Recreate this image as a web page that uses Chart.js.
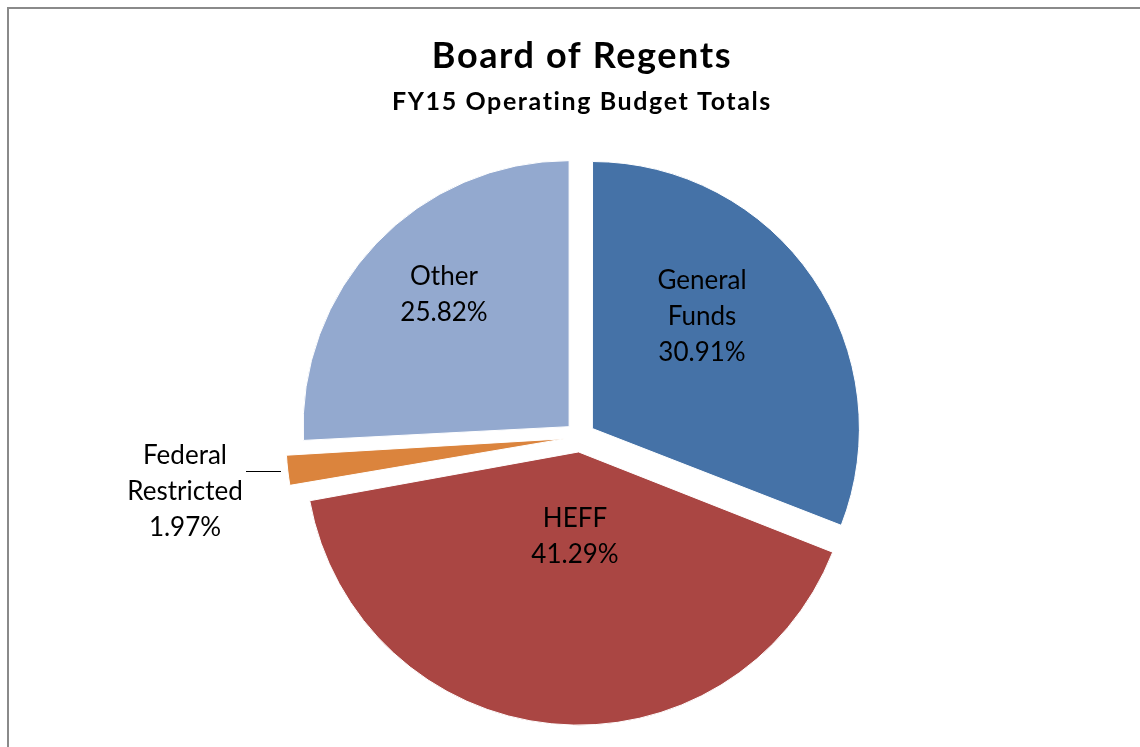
<!DOCTYPE html>
<html>
<head>
<meta charset="utf-8">
<title>Board of Regents - FY15 Operating Budget Totals</title>
<script src="https://cdn.jsdelivr.net/npm/chart.js@4.4.0/dist/chart.umd.min.js"></script>
<style>
  html, body { margin: 0; padding: 0; background: #fff; overflow: hidden; }
  #wrap { position: relative; width: 1140px; height: 747px; }
  #frame {
    position: absolute; left: 7px; top: 7px; width: 1300px; height: 900px;
    border: 2px solid #8a8a8a; box-sizing: border-box;
  }
  #budgetChart { position: absolute; left: 0; top: 0; }
</style>
</head>
<body>
<div id="wrap">
  <div id="frame"></div>
  <canvas id="budgetChart" width="1140" height="747"></canvas>
</div>
<script>
// FY15 operating budget shares (%)
const categories = ['General Funds', 'HEFF', 'Federal Restricted', 'Other'];
const shares = [30.91, 41.29, 1.97, 25.82];
const sliceColors = ['#4572A7', '#AA4643', '#DB843D', '#93A9CF'];

const chartTitle = 'Board of Regents';
const chartSubtitle = 'FY15 Operating Budget Totals';

// where each data label sits (x centre, first baseline)
const labelSpots = [
  { x: 702, y: 289 },
  { x: 575, y: 527 },
  { x: 185, y: 464 },
  { x: 444, y: 285 }
];

// titles and slice labels drawn on top of the pie
const textPlugin = {
  id: 'textPlugin',
  afterDraw(chart) {
    const ctx = chart.ctx;
    ctx.save();
    ctx.fillStyle = '#000';
    ctx.textAlign = 'center';
    ctx.textBaseline = 'alphabetic';

    ctx.font = 'bold 36px Lato';
    ctx.letterSpacing = '1.6px';
    ctx.fillText(chartTitle, 582, 68);
    ctx.font = 'bold 25px Lato';
    ctx.letterSpacing = '1.6px';
    ctx.fillText(chartSubtitle, 582, 110);

    ctx.letterSpacing = '0px';
    ctx.font = '26px Lato';
    categories.forEach((name, i) => {
      const lines = name.split(' ');
      lines.push(shares[i].toFixed(2) + '%');
      const spot = labelSpots[i];
      lines.forEach((txt, k) => ctx.fillText(txt, spot.x, spot.y + k * 36));
    });

    // leader line for the small slice
    ctx.strokeStyle = '#000';
    ctx.lineWidth = 1;
    ctx.beginPath();
    ctx.moveTo(246, 471.5);
    ctx.lineTo(281, 471.5);
    ctx.stroke();
    ctx.restore();
  }
};

const config = {
  type: 'pie',
  data: {
    labels: categories,
    datasets: [{
      data: shares,
      backgroundColor: sliceColors,
      borderColor: '#ffffff',
      borderWidth: 1,
      offset: 60,
      hoverOffset: 0
    }]
  },
  options: {
    responsive: false,
    animation: false,
    devicePixelRatio: 1,
    radius: 266,
    layout: { padding: { left: 20, right: 0, top: 127, bottom: 0 } },
    plugins: {
      legend: { display: false },
      tooltip: { enabled: false }
    }
  },
  plugins: [textPlugin]
};

const budgetChart = new Chart(document.getElementById('budgetChart'), config);
</script>
</body>
</html>
